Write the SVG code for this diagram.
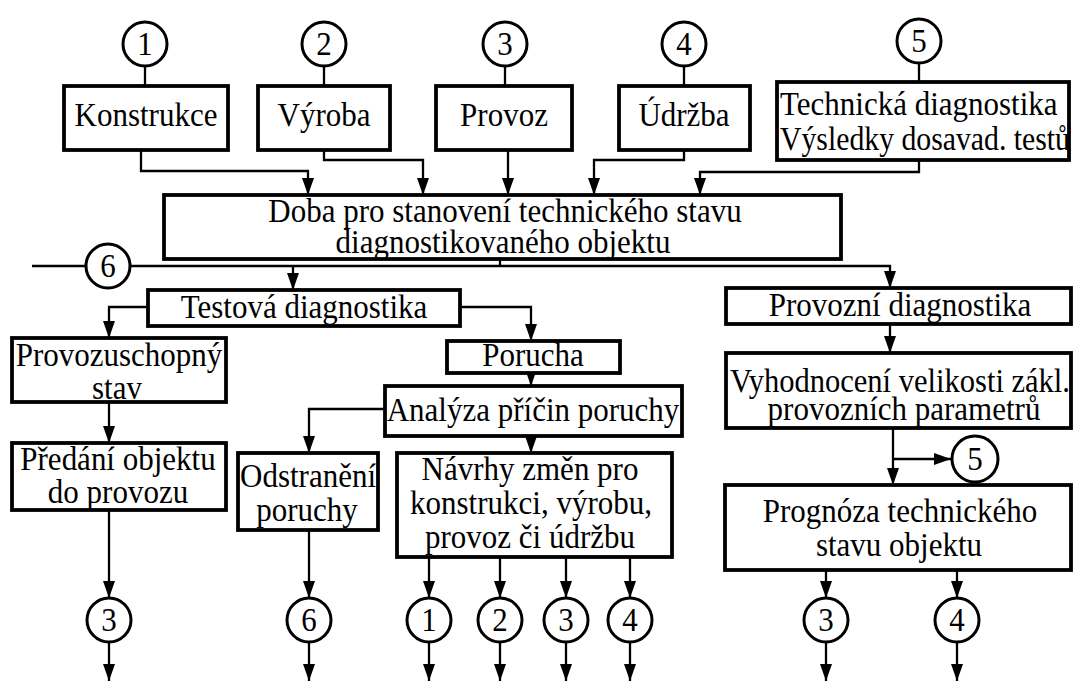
<svg xmlns="http://www.w3.org/2000/svg" width="1073" height="682" viewBox="0 0 1073 682">
  <style>
    .box { fill: #fff; stroke: #000; stroke-width: 3.8; }
    .circ { fill: #fff; stroke: #000; stroke-width: 3; }
    .ln { fill: none; stroke: #000; stroke-width: 2.3; }
    .arr { marker-end: url(#ah); }
    text { font-family: "Liberation Serif", "Times New Roman", serif; font-size: 31px; fill: #000; text-anchor: middle; }
    .l { text-anchor: start; }
  </style>
  <defs>
    <marker id="ah" viewBox="0 0 17 12" markerWidth="17" markerHeight="12" refX="17" refY="6" orient="auto" markerUnits="userSpaceOnUse">
      <path d="M0,0 L17,6 L0,12 z" fill="#000"/>
    </marker>
  </defs>

  <rect width="1073" height="682" fill="#fff"/>

  <!-- connectors -->
  <g id="connectors">
    <!-- stems from the numbered inputs -->
    <path class="ln" d="M145,66 V86"/>
    <path class="ln" d="M324,66 V86"/>
    <path class="ln" d="M505,66 V86"/>
    <path class="ln" d="M684,66 V86"/>
    <path class="ln" d="M919,63 V82"/>
    <!-- top boxes into the main box -->
    <path class="ln arr" d="M141,150 V171 H308 V195"/>
    <path class="ln arr" d="M324,150 V160 H423 V195"/>
    <path class="ln arr" d="M508,150 V195"/>
    <path class="ln arr" d="M684,150 V160 H594 V195"/>
    <path class="ln arr" d="M919,160 V172 H700 V195"/>
    <!-- main bus with loop-back 6 -->
    <path class="ln" d="M500,259 V266"/>
    <path class="ln arr" d="M32,266 H890 V288"/>
    <path class="ln arr" d="M293,266 V290"/>
    <!-- test diagnostics branch -->
    <path class="ln arr" d="M148,307 H109 V338"/>
    <path class="ln arr" d="M460,307 H531 V341"/>
    <path class="ln arr" d="M531,373 V386"/>
    <path class="ln arr" d="M385,409 H309 V453"/>
    <path class="ln arr" d="M531,436 V453"/>
    <path class="ln arr" d="M109,402 V443"/>
    <path class="ln arr" d="M109,510 V598"/>
    <path class="ln arr" d="M109,642 V681"/>
    <path class="ln arr" d="M309,530 V598"/>
    <path class="ln arr" d="M309,642 V681"/>
    <path class="ln arr" d="M429,557 V598"/>
    <path class="ln arr" d="M429,642 V681"/>
    <path class="ln arr" d="M500,557 V598"/>
    <path class="ln arr" d="M500,642 V681"/>
    <path class="ln arr" d="M566,557 V598"/>
    <path class="ln arr" d="M566,642 V681"/>
    <path class="ln arr" d="M630,557 V598"/>
    <path class="ln arr" d="M630,642 V681"/>
    <!-- operational diagnostics branch -->
    <path class="ln arr" d="M890,324 V353"/>
    <path class="ln arr" d="M893,428 V485"/>
    <path class="ln arr" d="M893,459 H951"/>
    <path class="ln arr" d="M826,570 V598"/>
    <path class="ln arr" d="M826,642 V681"/>
    <path class="ln arr" d="M957,570 V598"/>
    <path class="ln arr" d="M957,642 V681"/>
  </g>

  <!-- numbered inputs -->
  <g id="in1"><circle class="circ" cx="145" cy="44" r="22"/><text transform="translate(145,55) scale(1,1.1)">1</text></g>
  <g id="in2"><circle class="circ" cx="324" cy="44" r="22"/><text transform="translate(324,55) scale(1,1.1)">2</text></g>
  <g id="in3"><circle class="circ" cx="505" cy="44" r="22"/><text transform="translate(505,55) scale(1,1.1)">3</text></g>
  <g id="in4"><circle class="circ" cx="684" cy="44" r="22"/><text transform="translate(684,55) scale(1,1.1)">4</text></g>
  <g id="in5"><circle class="circ" cx="919" cy="41" r="22"/><text transform="translate(919,52) scale(1,1.1)">5</text></g>

  <!-- top row -->
  <g id="konstrukce"><rect class="box" x="64" y="86" width="164" height="64"/><text transform="translate(146,126) scale(1,1.1)">Konstrukce</text></g>
  <g id="vyroba"><rect class="box" x="258" y="86" width="132" height="64"/><text transform="translate(324,126) scale(1,1.1)">Výroba</text></g>
  <g id="provoz"><rect class="box" x="436" y="86" width="136" height="64"/><text transform="translate(504,126) scale(1,1.1)">Provoz</text></g>
  <g id="udrzba"><rect class="box" x="619" y="86" width="131" height="64"/><text transform="translate(684,126) scale(1,1.1)">Údržba</text></g>
  <g id="techdiag"><rect class="box" x="777" y="82" width="292" height="78"/>
    <text class="l" transform="translate(780,115) scale(1,1.1)">Technická diagnostika</text>
    <text class="l" transform="translate(780,150) scale(1,1.1)" textLength="290" lengthAdjust="spacingAndGlyphs">Výsledky dosavad. testů</text></g>

  <!-- main box -->
  <g id="doba"><rect class="box" x="164" y="195" width="677" height="64"/>
    <text transform="translate(505,222) scale(1,1.1)">Doba pro stanovení technického stavu</text>
    <text transform="translate(503,253) scale(1,1.1)">diagnostikovaného objektu</text></g>

  <g id="loop6"><circle class="circ" cx="108" cy="266" r="22"/><text transform="translate(108,277) scale(1,1.1)">6</text></g>

  <!-- test diagnostics -->
  <g id="testova"><rect class="box" x="148" y="290" width="312" height="36"/><text transform="translate(304,318) scale(1,1.1)">Testová diagnostika</text></g>
  <g id="provozuschopny"><rect class="box" x="12" y="338" width="214" height="64"/>
    <text transform="translate(119,366) scale(1,1.1)">Provozuschopný</text><text transform="translate(117,399) scale(1,1.1)">stav</text></g>
  <g id="predani"><rect class="box" x="12" y="443" width="214" height="67"/>
    <text transform="translate(118,470) scale(1,1.1)">Předání objektu</text><text transform="translate(118,503) scale(1,1.1)">do provozu</text></g>
  <g id="porucha"><rect class="box" x="447" y="341" width="173" height="32"/><text transform="translate(533,366) scale(1,1.1)">Porucha</text></g>
  <g id="analyza"><rect class="box" x="385" y="386" width="297" height="50"/><text transform="translate(533,421) scale(1,1.1)">Analýza příčin poruchy</text></g>
  <g id="odstraneni"><rect class="box" x="238" y="453" width="140" height="77"/>
    <text transform="translate(308,487) scale(1,1.1)">Odstranění</text><text transform="translate(307,521) scale(1,1.1)">poruchy</text></g>
  <g id="navrhy"><rect class="box" x="397" y="453" width="275" height="104"/>
    <text transform="translate(530,480) scale(1,1.1)">Návrhy změn pro</text>
    <text transform="translate(531,514) scale(1,1.1)">konstrukci, výrobu,</text>
    <text transform="translate(530,548) scale(1,1.1)">provoz či údržbu</text></g>

  <!-- operational diagnostics -->
  <g id="provozni"><rect class="box" x="726" y="288" width="345" height="36"/><text transform="translate(900,316) scale(1,1.1)">Provozní diagnostika</text></g>
  <g id="vyhodnoceni"><rect class="box" x="726" y="353" width="345" height="75"/>
    <text class="l" transform="translate(730,392) scale(1,1.1)" textLength="340" lengthAdjust="spacingAndGlyphs">Vyhodnocení velikosti zákl.</text>
    <text transform="translate(904,420) scale(1,1.1)">provozních parametrů</text></g>
  <g id="out5"><circle class="circ" cx="975" cy="459" r="23"/><text transform="translate(975,470) scale(1,1.1)">5</text></g>
  <g id="prognoza"><rect class="box" x="725" y="485" width="346" height="85"/>
    <text transform="translate(900,522) scale(1,1.1)">Prognóza technického</text><text transform="translate(899,556) scale(1,1.1)">stavu objektu</text></g>

  <!-- numbered outputs -->
  <g id="out3a"><circle class="circ" cx="109" cy="620" r="22"/><text transform="translate(109,631) scale(1,1.1)">3</text></g>
  <g id="out6"><circle class="circ" cx="309" cy="620" r="22"/><text transform="translate(309,631) scale(1,1.1)">6</text></g>
  <g id="out1"><circle class="circ" cx="429" cy="620" r="22"/><text transform="translate(429,631) scale(1,1.1)">1</text></g>
  <g id="out2"><circle class="circ" cx="500" cy="620" r="22"/><text transform="translate(500,631) scale(1,1.1)">2</text></g>
  <g id="out3b"><circle class="circ" cx="566" cy="620" r="22"/><text transform="translate(566,631) scale(1,1.1)">3</text></g>
  <g id="out4a"><circle class="circ" cx="630" cy="620" r="22"/><text transform="translate(630,631) scale(1,1.1)">4</text></g>
  <g id="out3c"><circle class="circ" cx="826" cy="620" r="22"/><text transform="translate(826,631) scale(1,1.1)">3</text></g>
  <g id="out4b"><circle class="circ" cx="957" cy="620" r="22"/><text transform="translate(957,631) scale(1,1.1)">4</text></g>
</svg>
